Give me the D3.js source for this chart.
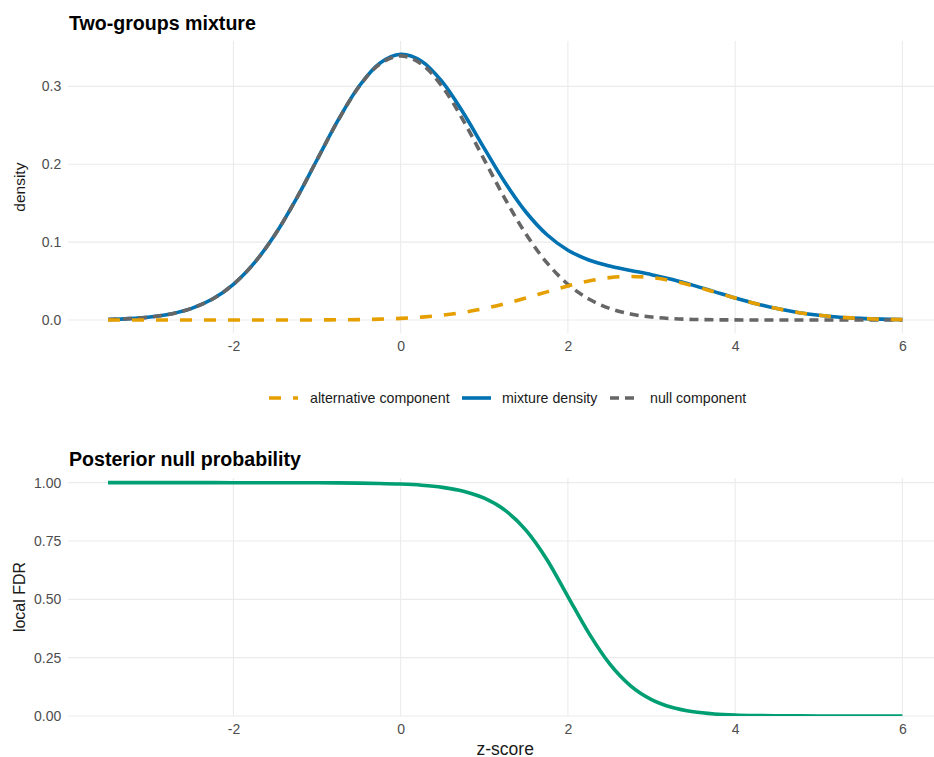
<!DOCTYPE html>
<html>
<head>
<meta charset="utf-8">
<script src="https://cdn.jsdelivr.net/npm/d3@7"></script>
<style>
  html, body { margin: 0; padding: 0; background: #fff; }
  svg { display: block; font-family: "Liberation Sans", Arial, Helvetica, sans-serif; }
</style>
</head>
<body>
<svg id="chart" width="934" height="757"></svg>
<script>
// z-score grid shared by every curve
const zGrid = [-3.5,-3.25,-3,-2.75,-2.5,-2.25,-2,-1.75,-1.5,-1.25,-1,-0.75,-0.5,-0.25,0,0.25,0.5,0.75,1,1.25,1.5,1.75,2,2.25,2.5,2.75,3,3.25,3.5,3.75,4,4.25,4.5,4.75,5,5.25,5.5,5.75,6];

// density of the null part (scaled by its weight)
const nullComponent = [0.000742,0.001725,0.003767,0.007730,0.014899,0.026979,0.045892,0.073335,0.110090,0.155252,0.205675,0.255966,0.299255,0.328668,0.339101,0.328668,0.299255,0.255966,0.205675,0.155252,0.110090,0.073335,0.045892,0.026979,0.014899,0.007730,0.003767,0.001725,0.000742,0.000300,0.000114,0.000041,0.000014,0.000004,0.000001,0,0,0,0];

// density of the alternative part (scaled by its weight)
const altComponent = [0,0,0,0,0,0,0.000003,0.000008,0.000021,0.000052,0.000120,0.000266,0.000555,0.001098,0.002056,0.003649,0.006129,0.009749,0.014680,0.020935,0.028265,0.036134,0.043743,0.050141,0.054419,0.055925,0.054419,0.050141,0.043743,0.036134,0.028265,0.020935,0.014680,0.009749,0.006129,0.003649,0.002056,0.001098,0.000555];

// full mixture density
const mixtureDensity = [0.000742,0.001725,0.003767,0.007730,0.014899,0.026980,0.045895,0.073343,0.110111,0.155304,0.205795,0.256232,0.299810,0.329766,0.341157,0.332317,0.305384,0.265715,0.220355,0.176187,0.138355,0.109469,0.089635,0.077120,0.069318,0.063655,0.058186,0.051866,0.044485,0.036434,0.028379,0.020976,0.014694,0.009753,0.006130,0.003649,0.002056,0.001098,0.000555];

// posterior probability of the null
const localFDR = [1.0000,1.0000,1.0000,1.0000,1.0000,0.99998,0.99994,0.99989,0.99981,0.99966,0.99942,0.99896,0.99815,0.99667,0.99397,0.98902,0.97993,0.96331,0.93338,0.88118,0.79571,0.66992,0.51199,0.35500,0.22300,0.12900,0.07000,0.03600,0.01800,0.00880,0.00420,0.00200,0.00095,0.00041,0.00016,0.00006,0.00002,0.00001,0.00000];

const xTicks = [-2, 0, 2, 4, 6];
const densityTicks = [0.0, 0.1, 0.2, 0.3];
const fdrTicks = [0, 0.25, 0.5, 0.75, 1];

const series = [
  { name: "alternative component", values: altComponent, color: "#E69F00", dash: "12,12" },
  { name: "mixture density", values: mixtureDensity, color: "#0072B2", dash: null },
  { name: "null component", values: nullComponent, color: "#666666", dash: "9,6" }
];
const drawOrder = [1, 2, 0];

const svg = d3.select("#chart");
svg.append("rect").attr("width", 934).attr("height", 757).attr("fill", "#fff");

const x = d3.scaleLinear().domain([-3.975, 6.475]).range([68.3, 942.1]);
const yTop = d3.scaleLinear().domain([-0.01706, 0.35822]).range([333.3, 41]);
const yBot = d3.scaleLinear().domain([0, 1.02]).range([716, 478]);

const gridColor = "#EBEBEB";
const tickColor = "#4D4D4D";

function panel(y, yTicks, yFmt, title, titleY, yLabel, yLabelSize, clipId) {
  const [b, t] = y.range();
  const g = svg.append("g");
  svg.append("clipPath").attr("id", clipId).append("rect")
    .attr("x", x.range()[0]).attr("y", t)
    .attr("width", x.range()[1] - x.range()[0]).attr("height", b - t);
  // major grid
  g.append("g").selectAll("line").data(yTicks).join("line")
    .attr("x1", x.range()[0]).attr("x2", x.range()[1])
    .attr("y1", d => y(d)).attr("y2", d => y(d))
    .attr("stroke", gridColor).attr("stroke-width", 1.1);
  g.append("g").selectAll("line").data(xTicks).join("line")
    .attr("x1", d => x(d)).attr("x2", d => x(d))
    .attr("y1", t).attr("y2", b)
    .attr("stroke", gridColor).attr("stroke-width", 1.1);

  // axes: labels only, no domain line or tick marks
  const ax = g.append("g").attr("transform", `translate(0,${b})`)
    .call(d3.axisBottom(x).tickValues(xTicks).tickFormat(d => String(d)).tickSize(0).tickPadding(8));
  ax.select(".domain").remove();
  ax.selectAll("text").attr("fill", tickColor).attr("font-size", 14).attr("font-family", null);

  const ay = g.append("g").attr("transform", `translate(${x.range()[0]},0)`)
    .call(d3.axisLeft(y).tickValues(yTicks).tickFormat(yFmt).tickSize(0).tickPadding(7));
  ay.select(".domain").remove();
  ay.selectAll("text").attr("fill", tickColor).attr("font-size", 14).attr("font-family", null);

  g.append("text").attr("x", 69).attr("y", titleY)
    .attr("font-size", 19.6).attr("font-weight", "bold").attr("fill", "#000").text(title);

  g.append("text")
    .attr("transform", `translate(25,${(t + b) / 2}) rotate(-90)`)
    .attr("text-anchor", "middle").attr("font-size", yLabelSize).attr("fill", "#1a1a1a").text(yLabel);
  return g;
}

panel(yTop, densityTicks, d3.format(".1f"), "Two-groups mixture", 29.5, "density", 15.5, "clipTop");
panel(yBot, fdrTicks, d3.format(".2f"), "Posterior null probability", 465.5, "local FDR", 16, "clipBot");

// density curves
const lineTop = d3.line().x((d, i) => x(zGrid[i])).y(d => yTop(d)).curve(d3.curveCatmullRom.alpha(0.5));
const topMarks = svg.append("g").attr("clip-path", "url(#clipTop)");
drawOrder.forEach(k => {
  const s = series[k];
  topMarks.append("path").datum(s.values)
    .attr("d", lineTop).attr("fill", "none")
    .attr("stroke", s.color).attr("stroke-width", 3.6)
    .attr("stroke-dasharray", s.dash);
});

// local FDR curve
const lineBot = d3.line().x((d, i) => x(zGrid[i])).y(d => yBot(d)).curve(d3.curveMonotoneX);
svg.append("g").attr("clip-path", "url(#clipBot)")
  .append("path").datum(localFDR)
  .attr("d", lineBot).attr("fill", "none")
  .attr("stroke", "#009E73").attr("stroke-width", 3.6);

// legend
const legend = svg.append("g").attr("transform", "translate(0,398)");
const keyX = [269, 462, 610];
const keyW = [29, 29, 25];
const textX = [310, 502, 650];
series.forEach((s, i) => {
  legend.append("line")
    .attr("x1", keyX[i]).attr("x2", keyX[i] + keyW[i]).attr("y1", 0).attr("y2", 0)
    .attr("stroke", s.color).attr("stroke-width", 3.6).attr("stroke-dasharray", s.dash);
  legend.append("text").attr("x", textX[i]).attr("y", 0).attr("dy", "0.35em")
    .attr("font-size", 14.2).attr("fill", "#1a1a1a").text(s.name);
});

// x-axis title centred under the lower panel
svg.append("text").attr("x", (x.range()[0] + x.range()[1]) / 2).attr("y", 754.5).attr("text-anchor", "middle")
  .attr("font-size", 17.5).attr("fill", "#1a1a1a").text("z-score");
</script>
</body>
</html>
